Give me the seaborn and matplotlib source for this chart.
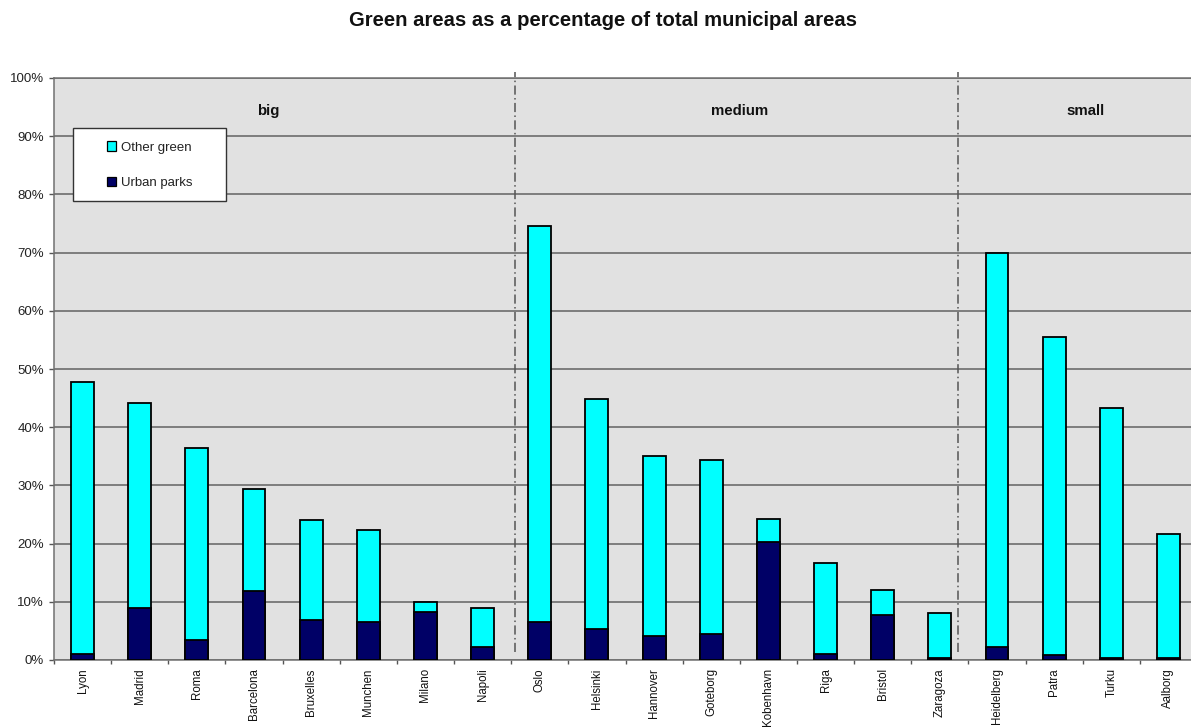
import numpy as np
import pandas as pd
import matplotlib
matplotlib.use("Agg")
import matplotlib.pyplot as plt
from matplotlib.patches import Patch, Rectangle
import seaborn as sns

plt.rcParams["font.family"] = ["Liberation Sans", "DejaVu Sans"]

# --- data -------------------------------------------------------------
cities = ["Lyon", "Madrid", "Roma", "Barcelona", "Bruxelles", "Munchen", "Milano", "Napoli",
          "Oslo", "Helsinki", "Hannover", "Goteborg", "Kobenhavn", "Riga", "Bristol", "Zaragoza",
          "Heidelberg", "Patra", "Turku", "Aalborg"]
size_class = ["big"] * 8 + ["medium"] * 8 + ["small"] * 4

# percentage of municipal area
urban_parks = [1.0, 8.9, 3.4, 11.8, 6.9, 6.6, 8.2, 2.2,
               6.6, 5.3, 4.1, 4.5, 20.3, 1.0, 7.7, 0.3,
               2.2, 0.9, 0.4, 0.3]
other_green = [46.7, 35.2, 33.0, 17.6, 17.1, 15.7, 1.7, 6.8,
               68.0, 39.5, 30.9, 29.9, 4.0, 15.6, 4.4, 7.7,
               67.8, 54.6, 42.9, 21.4]

y_ticks = list(range(0, 101, 10))
y_ticklabels = [f"{v}%" for v in y_ticks]

df = pd.DataFrame({"city": cities, "group": size_class,
                   "parks": urban_parks, "other": other_green})
df["total"] = df["parks"] + df["other"]

# --- colours ----------------------------------------------------------
CYAN = "#00ffff"
NAVY = "#000066"
BG = "#e1e1e1"
GRID = "#626262"

W, H = 1191, 727
fig = plt.figure(figsize=(W / 100, H / 100), dpi=100)
ax = fig.add_axes([54 / W, 67 / H, 1143 / W, 582 / H])
ax.set_facecolor(BG)

# stacked bars: the full height first, then the parks share on top of it
sns.barplot(data=df, x="city", y="total", order=cities, color=CYAN, saturation=1,
            width=0.4, edgecolor="black", linewidth=1.3, ax=ax, zorder=3)
sns.barplot(data=df, x="city", y="parks", order=cities, color=NAVY, saturation=1,
            width=0.4, edgecolor="black", linewidth=1.3, ax=ax, zorder=4)

ax.set_xlim(-0.5, len(cities) - 0.5)
ax.set_ylim(0, 100)
ax.set_xlabel("")
ax.set_ylabel("")

# horizontal gridlines
ax.set_axisbelow(True)
ax.yaxis.grid(True, color=GRID, linewidth=1.1)
ax.xaxis.grid(False)

ax.set_yticks(y_ticks)
ax.set_yticklabels(y_ticklabels, fontsize=9.5, color="#222222")
ax.tick_params(axis="y", length=3.6, width=1, color="#555555", pad=3.5)

# category labels at bar centres, tick marks on category boundaries
ax.set_xticks(np.arange(len(cities)))
ax.set_xticklabels(cities, rotation=90, fontsize=8.3, color="#111111")
ax.tick_params(axis="x", which="major", length=0, pad=6)
ax.set_xticks(np.arange(-0.5, len(cities), 1), minor=True)
ax.tick_params(axis="x", which="minor", length=3.2, width=1, color="#555555")

for side, sp in ax.spines.items():
    sp.set_color("#707070")
    sp.set_linewidth(1.1)

# dash-dot separators between the size classes
separator_x = [7.57, 15.32]
for b in separator_x:
    ax.axvline(b, ymin=0.014, ymax=1.01, color="#555555", linewidth=1.1,
               linestyle=(0, (6, 2.2, 1, 2.2)), clip_on=False, zorder=2)

# size class headers
for name, xpos in [("big", 3.25), ("medium", 11.5), ("small", 17.55)]:
    ax.text(xpos, 94.3, name, ha="center", va="center", fontsize=10.8,
            fontweight="bold", color="#111111", zorder=5)

# legend in a white box
ax.add_patch(Rectangle((0.0164, 0.789), 0.1341, 0.1244, transform=ax.transAxes,
                       facecolor="white", edgecolor="#333333", linewidth=1.0, zorder=6))
handles = [Patch(facecolor=CYAN, edgecolor="black", linewidth=0.9, label="Other green"),
           Patch(facecolor=NAVY, edgecolor="black", linewidth=0.9, label="Urban parks")]
leg = ax.legend(handles=handles, loc="upper left", bbox_to_anchor=(0.0461, 0.891),
                frameon=False, fontsize=9.5, handlelength=0.7, handleheight=0.7,
                handletextpad=0.35, labelspacing=1.75, borderpad=0, borderaxespad=0)
leg.set_zorder(7)
for t in leg.get_texts():
    t.set_color("#222222")

fig.text(603 / W, 1 - 20 / H, "Green areas as a percentage of total municipal areas",
         ha="center", va="center", fontsize=14.6, fontweight="bold", color="#111111")

fig.savefig("out.png", dpi=100, facecolor="white")
